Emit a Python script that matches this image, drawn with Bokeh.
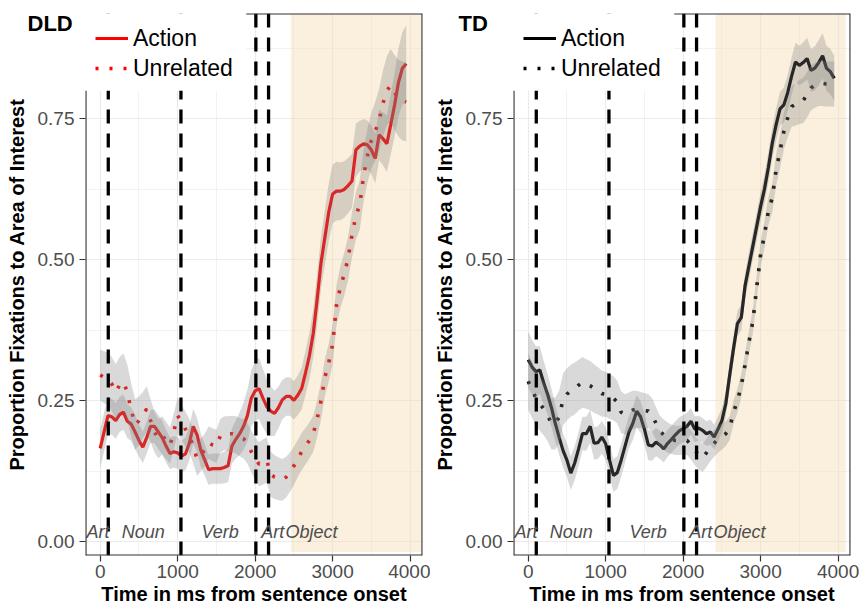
from bokeh.plotting import figure
from bokeh.layouts import row
from bokeh.models import Range1d, FixedTicker, Legend, LegendItem, NumeralTickFormatter
from bokeh.core.properties import value
from bokeh.embed import file_html
from bokeh.resources import INLINE

# ---------------- data ----------------
TIME = list(range(0, 4000, 50))  # ms from sentence onset, 80 samples

DLD_ACTION = [0.166, 0.195, 0.224, 0.222, 0.215, 0.226, 0.230, 0.214, 0.209, 0.195,
              0.180, 0.168, 0.185, 0.205, 0.205, 0.195, 0.185, 0.170, 0.157, 0.160,
              0.158, 0.152, 0.156, 0.175, 0.205, 0.190, 0.162, 0.145, 0.128, 0.130,
              0.130, 0.130, 0.132, 0.135, 0.170, 0.182, 0.192, 0.205, 0.224, 0.255,
              0.268, 0.272, 0.255, 0.240, 0.232, 0.228, 0.238, 0.252, 0.258, 0.258,
              0.251, 0.260, 0.272, 0.300, 0.330, 0.370, 0.430, 0.495, 0.540, 0.585,
              0.617, 0.622, 0.622, 0.625, 0.632, 0.640, 0.695, 0.702, 0.706, 0.704,
              0.695, 0.680, 0.722, 0.715, 0.706, 0.740, 0.775, 0.815, 0.840, 0.848]
DLD_ACTION_SE = [0.035, 0.034, 0.033, 0.032, 0.032, 0.031, 0.031, 0.030, 0.030, 0.030,
                 0.029, 0.028, 0.028, 0.029, 0.030, 0.030, 0.030, 0.029, 0.028, 0.028,
                 0.028, 0.028, 0.029, 0.030, 0.031, 0.030, 0.029, 0.028, 0.027, 0.027,
                 0.027, 0.027, 0.028, 0.029, 0.031, 0.034, 0.038, 0.042, 0.046, 0.050,
                 0.053, 0.054, 0.052, 0.048, 0.044, 0.040, 0.037, 0.035, 0.034, 0.034,
                 0.034, 0.035, 0.037, 0.039, 0.041, 0.043, 0.045, 0.047, 0.049, 0.051,
                 0.052, 0.052, 0.051, 0.050, 0.049, 0.048, 0.047, 0.045, 0.044, 0.043,
                 0.043, 0.044, 0.045, 0.047, 0.050, 0.053, 0.056, 0.060, 0.064, 0.068]
DLD_UNREL = [0.296, 0.292, 0.289, 0.280, 0.266, 0.278, 0.284, 0.265, 0.234, 0.208,
             0.215, 0.225, 0.236, 0.215, 0.195, 0.183, 0.189, 0.180, 0.171, 0.196,
             0.224, 0.212, 0.200, 0.188, 0.170, 0.147, 0.155, 0.163, 0.176, 0.172,
             0.170, 0.188, 0.193, 0.192, 0.192, 0.190, 0.186, 0.183, 0.175, 0.160,
             0.148, 0.138, 0.142, 0.145, 0.120, 0.115, 0.112, 0.110, 0.115, 0.124,
             0.135, 0.148, 0.160, 0.170, 0.180, 0.192, 0.218, 0.250, 0.292, 0.318,
             0.350, 0.420, 0.452, 0.475, 0.503, 0.545, 0.578, 0.598, 0.650, 0.685,
             0.712, 0.728, 0.748, 0.778, 0.800, 0.810, 0.797, 0.787, 0.782, 0.780]
DLD_UNREL_SE = [0.045, 0.046, 0.047, 0.048, 0.049, 0.050, 0.050, 0.049, 0.047, 0.045,
                0.043, 0.041, 0.040, 0.038, 0.036, 0.035, 0.034, 0.033, 0.032, 0.032,
                0.032, 0.031, 0.031, 0.030, 0.030, 0.030, 0.029, 0.029, 0.029, 0.029,
                0.029, 0.030, 0.030, 0.031, 0.032, 0.033, 0.034, 0.035, 0.036, 0.037,
                0.038, 0.039, 0.040, 0.040, 0.040, 0.039, 0.038, 0.037, 0.036, 0.035,
                0.034, 0.033, 0.033, 0.032, 0.032, 0.032, 0.032, 0.033, 0.033, 0.034,
                0.035, 0.036, 0.037, 0.038, 0.039, 0.040, 0.042, 0.044, 0.046, 0.048,
                0.050, 0.052, 0.055, 0.058, 0.061, 0.064, 0.066, 0.068, 0.070, 0.070]

TD_ACTION = [0.323, 0.310, 0.302, 0.305, 0.282, 0.262, 0.238, 0.210, 0.185, 0.162,
             0.145, 0.122, 0.140, 0.165, 0.192, 0.192, 0.205, 0.175, 0.176, 0.186,
             0.174, 0.145, 0.118, 0.123, 0.145, 0.170, 0.195, 0.210, 0.232, 0.222,
             0.200, 0.172, 0.170, 0.177, 0.172, 0.165, 0.175, 0.182, 0.190, 0.197,
             0.201, 0.205, 0.214, 0.200, 0.202, 0.198, 0.192, 0.195, 0.186, 0.200,
             0.215, 0.245, 0.295, 0.343, 0.387, 0.398, 0.455, 0.490, 0.525, 0.560,
             0.595, 0.626, 0.664, 0.707, 0.740, 0.768, 0.775, 0.797, 0.826, 0.851,
             0.845, 0.850, 0.857, 0.836, 0.840, 0.850, 0.862, 0.840, 0.834, 0.822]
TD_ACTION_SE = [0.050, 0.048, 0.045, 0.042, 0.039, 0.036, 0.034, 0.032, 0.031, 0.030,
                0.030, 0.030, 0.030, 0.030, 0.030, 0.030, 0.029, 0.029, 0.029, 0.029,
                0.029, 0.029, 0.029, 0.029, 0.029, 0.029, 0.029, 0.029, 0.029, 0.028,
                0.028, 0.027, 0.026, 0.025, 0.025, 0.024, 0.024, 0.024, 0.024, 0.024,
                0.024, 0.024, 0.023, 0.023, 0.022, 0.022, 0.022, 0.022, 0.022, 0.022,
                0.022, 0.022, 0.022, 0.022, 0.022, 0.023, 0.023, 0.024, 0.024, 0.025,
                0.025, 0.026, 0.027, 0.028, 0.029, 0.030, 0.031, 0.032, 0.033, 0.034,
                0.035, 0.036, 0.037, 0.038, 0.039, 0.040, 0.040, 0.040, 0.040, 0.040]
TD_UNREL = [0.285, 0.270, 0.255, 0.245, 0.236, 0.225, 0.210, 0.210, 0.222, 0.253,
            0.262, 0.268, 0.272, 0.278, 0.283, 0.280, 0.277, 0.272, 0.268, 0.263,
            0.262, 0.258, 0.255, 0.248, 0.230, 0.226, 0.230, 0.234, 0.235, 0.234,
            0.233, 0.232, 0.225, 0.210, 0.196, 0.190, 0.185, 0.182, 0.180, 0.180,
            0.180, 0.180, 0.172, 0.162, 0.155, 0.149, 0.158, 0.168, 0.175, 0.182,
            0.187, 0.192, 0.202, 0.230, 0.250, 0.277, 0.315, 0.355, 0.392, 0.452,
            0.510, 0.545, 0.587, 0.610, 0.660, 0.693, 0.728, 0.752, 0.772, 0.776,
            0.780, 0.783, 0.793, 0.805, 0.810, 0.813, 0.813, 0.812, 0.812, 0.812]
TD_UNREL_SE = [0.050, 0.050, 0.049, 0.048, 0.047, 0.046, 0.046, 0.046, 0.046, 0.046,
               0.046, 0.046, 0.046, 0.045, 0.045, 0.044, 0.044, 0.043, 0.042, 0.041,
               0.040, 0.040, 0.039, 0.038, 0.037, 0.036, 0.035, 0.034, 0.033, 0.032,
               0.031, 0.030, 0.030, 0.029, 0.028, 0.027, 0.027, 0.026, 0.026, 0.026,
               0.026, 0.026, 0.026, 0.026, 0.026, 0.025, 0.025, 0.025, 0.024, 0.024,
               0.023, 0.022, 0.021, 0.021, 0.021, 0.021, 0.021, 0.021, 0.022, 0.022,
               0.023, 0.024, 0.025, 0.026, 0.028, 0.030, 0.032, 0.034, 0.036, 0.038,
               0.039, 0.040, 0.040, 0.040, 0.040, 0.040, 0.040, 0.040, 0.040, 0.040]

WORD_ONSETS = [104, 1042, 2009, 2173]           # dashed vertical lines (ms)
WORD_LABELS = ["Art", "Noun", "Verb", "Art", "Object"]
WORD_LABEL_X = [-30, 555, 1548, 2228, 2728]
WORD_LABEL_Y = 0.017
DLD_WINDOW = (2461, 4145)                      # shaded analysis window
TD_WINDOW = (2418, 4099)
WINDOW_BOTTOM = -0.018

X_TICKS = [0, 1000, 2000, 3000, 4000]
X_MINOR = [500, 1500, 2500, 3500]
Y_TICKS = [0.0, 0.25, 0.50, 0.75]
Y_MINOR = [0.125, 0.375, 0.625, 0.875]
X_RANGE = (-190, 4160)
Y_RANGE = (-0.024, 0.937)

FONT = "Liberation Sans"


def panel(title, color, act, act_se, unr, unr_se, window, bl, br, width, title_off):
    X0, X1 = X_RANGE
    Y0, Y1 = Y_RANGE
    p = figure(width=width, height=609, output_backend="svg", toolbar_location=None,
               x_range=Range1d(X0, X1), y_range=Range1d(Y0, Y1),
               min_border_left=bl, min_border_right=br, min_border_top=13, min_border_bottom=54,
               background_fill_color="white", border_fill_color="white")
    p.outline_line_color = None

    # panel title (overlaps the top of the panel, as in the original)
    p.title.text = title
    p.title.align = "left"
    p.title.offset = title_off
    p.title.standoff = -44
    p.title.text_font = FONT
    p.title.text_font_size = "22px"
    p.title.text_font_style = "bold"
    p.title.text_color = "black"

    # axes
    p.xaxis.ticker = FixedTicker(ticks=X_TICKS, minor_ticks=X_MINOR)
    p.yaxis.ticker = FixedTicker(ticks=Y_TICKS, minor_ticks=Y_MINOR)
    p.xaxis.formatter = NumeralTickFormatter(format="0")
    p.yaxis.formatter = NumeralTickFormatter(format="0.00")
    for ax in (p.xaxis[0], p.yaxis[0]):
        ax.axis_line_color = None
        ax.major_tick_line_color = "#333333"
        ax.major_tick_line_width = 1.2
        ax.major_tick_in = 0
        ax.minor_tick_line_color = None
        ax.major_label_text_font = FONT
        ax.major_label_text_font_size = "19px"
        ax.major_label_text_color = "#4d4d4d"
        ax.axis_label_text_font = FONT
        ax.axis_label_text_font_size = "20px"
        ax.axis_label_text_font_style = "bold"
        ax.axis_label_text_color = "black"
    p.xaxis.major_tick_out = 6
    p.xaxis.major_label_standoff = 3
    p.xaxis.axis_label_standoff = 2
    p.yaxis.major_tick_out = 6
    p.yaxis.major_label_standoff = 5
    p.yaxis.axis_label_standoff = 7
    p.xaxis.axis_label = "Time in ms from sentence onset"
    p.yaxis.axis_label = "Proportion Fixations to Area of Interest"

    # grid
    for g in (p.xgrid[0], p.ygrid[0]):
        g.grid_line_color = "#ebebeb"
        g.grid_line_width = 1.2
        g.minor_grid_line_color = "#f2f2f2"
        g.minor_grid_line_width = 1

    # shaded window
    p.quad(left=[window[0]], right=[window[1]], bottom=[WINDOW_BOTTOM], top=[Y1],
           fill_color="#F5DEB3", fill_alpha=0.45, line_color=None)

    # lines
    r_act = p.line(TIME, act, line_color=color, line_width=3.2)
    r_unr = p.line(TIME, unr, line_color=color, line_width=3.6, line_dash="3 11")

    # ribbons (drawn over the lines, as in the original)
    for v, se in ((act, act_se), (unr, unr_se)):
        lo = [a - s for a, s in zip(v, se)]
        hi = [a + s for a, s in zip(v, se)]
        p.varea(x=TIME, y1=lo, y2=hi, fill_color="#808080", fill_alpha=0.3)

    # word onset lines
    p.segment(x0=WORD_ONSETS, y0=[Y0] * len(WORD_ONSETS), x1=WORD_ONSETS, y1=[Y1] * len(WORD_ONSETS),
              line_color="black", line_width=3.3, line_dash="14 10")

    # word labels
    p.text(x=WORD_LABEL_X, y=[WORD_LABEL_Y] * len(WORD_LABELS), text=WORD_LABELS,
           text_font=value(FONT), text_font_style="italic", text_font_size="18px",
           text_color="#4d4d4d", text_align="center", text_baseline="middle")

    # legend background box (covers top-left of the panel)
    XB, YB = 1885, 0.80
    p.quad(left=[X0], right=[XB], bottom=[YB], top=[Y1], fill_color="white", line_color=None)

    # panel border
    p.segment(x0=[X0, X1, XB, X0], y0=[Y0, Y0, Y1, Y0], x1=[X1, X1, X1, X0], y1=[Y0, Y1, Y1, YB],
              line_color="#333333", line_width=2.2)

    legend = Legend(items=[LegendItem(label="Action", renderers=[r_act]),
                           LegendItem(label="Unrelated", renderers=[r_unr])],
                    location="top_left", margin=0, padding=10, spacing=0,
                    glyph_width=33, glyph_height=30, label_height=30, label_standoff=5,
                    label_text_font=FONT, label_text_font_size="23px", label_text_color="black",
                    background_fill_alpha=0, border_line_alpha=0)
    p.add_layout(legend)
    return p


p1 = panel("DLD", "red", DLD_ACTION, DLD_ACTION_SE, DLD_UNREL, DLD_UNREL_SE, DLD_WINDOW,
           bl=85, br=8, width=430, title_off=-58)
p2 = panel("TD", "black", TD_ACTION, TD_ACTION_SE, TD_UNREL, TD_UNREL_SE, TD_WINDOW,
           bl=83, br=11, width=431, title_off=-55)

layout = row(p1, p2)
open("out.html", "w").write(file_html(layout, INLINE))
